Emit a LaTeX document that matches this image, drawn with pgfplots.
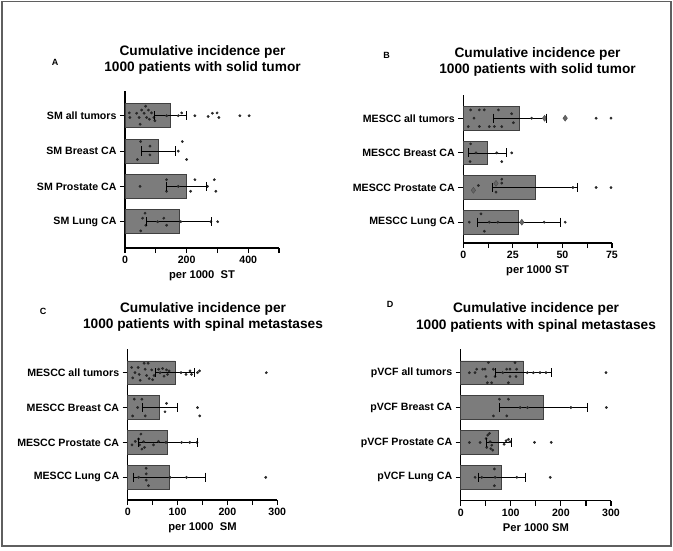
\documentclass[border=0pt]{standalone}
\usepackage{pgfplots}
\pgfplotsset{compat=1.18}
\usepackage{fontspec}
\setmainfont{Liberation Sans}
\definecolor{barg}{RGB}{124,124,124}
\definecolor{ptc}{RGB}{40,40,40}
\definecolor{framec}{RGB}{95,95,95}
\begin{document}
\begin{tikzpicture}[x=1pt,y=1pt]
\path[use as bounding box] (0pt,0pt) rectangle (673pt,-551pt);
\draw[framec, line width=1.3pt] (2pt,-1.5pt) rectangle (671pt,-546pt);
\pgfplotsset{
  panel/.style={
    scale only axis,
    anchor=north west,
    axis x line*=bottom,
    axis y line*=left,
    axis line style={line width=1.3pt},
    ytick={0,1,2,3},
    tick align=outside,
    major tick length=5pt,
    tick style={line width=1.1pt, black},
    xmin=0,
    ticklabel style={font=\bfseries\fontsize{10.6}{12}\selectfont},
    xlabel style={font=\bfseries\fontsize{11.2}{13}\selectfont},
    /pgf/number format/assume math mode=true,
    clip=false,
  },
  barst/.style={xbar, bar width=0.68, fill=barg, draw=black!75, line width=0.6pt},
  pts/.style={only marks, mark=*, mark size=1.2pt, mark options={draw=ptc, fill=ptc}},
  big/.style={only marks, mark=diamond*, mark size=3pt, mark options={draw=black!70, fill=black!60}},
  eb/.style={black, line width=0.7pt, mark=|, mark size=4.6pt, mark options={line width=0.8pt}},
}
% ---------------- A ----------------
\begin{axis}[panel, at={(125pt,-91pt)}, width=154pt, height=157pt,
  xmax=500, ymin=-0.744, ymax=3.70,
  xtick={0,100,200,300,400,500}, xticklabels={0,,200,,400,},
  yticklabels={SM Lung CA,SM Prostate CA,SM Breast CA,SM all tumors},
  xlabel={per 1000\ \ ST}]
\addplot[barst] coordinates {(146,3) (108,2) (198,1) (175,0)};
\addplot[pts] coordinates {
 (14,3.08) (16,2.95) (38,3.07) (46,2.95) (49,2.76) (54,3.16) (62,3.07) (67,3.27)
 (70,2.95) (76,3.16) (79,2.90) (86,3.08) (94,2.95) (97,2.86) (135,3) (173,3)
 (184,3.08) (227,3) (270,2.98) (284,3.07) (299,3.08) (305,2.95) (373,3) (403,3)
 (51,2.27) (81,2.14) (81,1.89) (40,1.76) (186,2.27) (173,2.0) (200,1.76)
 (49,1.0) (135,1.19) (135,0.86) (173,1.0) (227,1.19) (213,0.86) (268,1.0) (290,1.19) (295,0.86)
 (65,0.24) (57,0.1) (68,-0.1) (51,-0.26) (106,0) (126,0.1) (135,-0.1) (181,0) (279,0) (301,0)};
\addplot[eb] coordinates {(95,3) (200,3)};
\addplot[eb] coordinates {(54,2) (164,2)};
\addplot[eb] coordinates {(135,1) (263,1)};
\addplot[eb] coordinates {(70,0) (279,0)};
\end{axis}
% ---------------- B ----------------
\begin{axis}[panel, at={(463.3pt,-95pt)}, width=148.7pt, height=148pt,
  xmax=75, ymin=-0.60, ymax=3.67,
  xtick={0,12.5,25,37.5,50,62.5,75}, xticklabels={0,,25,,50,,75},
  yticklabels={MESCC Lung CA,MESCC Prostate CA,MESCC Breast CA,MESCC all tumors},
  xlabel={per 1000 ST}]
\addplot[barst] coordinates {(28.3,3) (12.1,2) (36.2,1) (27.8,0)};
\addplot[pts] coordinates {
 (3.7,3.24) (8.1,3.24) (10.6,3.24) (17.7,3.24) (24.4,3.13) (5.4,3.0) (34.5,3.0)
 (67,3.0) (74.5,3.0) (2.5,2.76) (8.1,2.76) (13.1,2.76) (15.7,2.76) (19.4,2.76) (25.3,2.87)
 (3.7,2.26) (6.4,2.0) (3.4,1.75) (16.9,2.0) (24.4,2.0) (19.4,1.75)
 (7.6,1.06) (19.4,1.24) (19.4,1.13) (16.5,0.87) (55.3,1.0) (67,1.0) (74.5,1.0)
 (3,0) (8.9,0.24) (10.6,-0.26) (13.1,0) (17.4,0) (40.8,0) (51.4,0)};
\addplot[big] coordinates {(41,3.0) (51.4,3.0) (5.1,0.92) (16.5,1.12) (29.5,0)};
\addplot[eb] coordinates {(15.2,3) (41.8,3)};
\addplot[eb] coordinates {(2.5,2) (21.6,2)};
\addplot[eb] coordinates {(14.7,1) (57.8,1)};
\addplot[eb] coordinates {(7.1,0) (48.9,0)};
\end{axis}
% ---------------- C ----------------
\begin{axis}[panel, at={(127.7pt,-349.3pt)}, width=149.6pt, height=150.7pt,
  xmax=300, ymin=-0.65, ymax=3.67,
  xtick={0,50,100,150,200,250,300}, xticklabels={0,,100,,200,,300},
  yticklabels={MESCC Lung CA,MESCC Prostate CA,MESCC Breast CA,MESCC all tumors},
  xlabel={per 1000\ \ SM}]
\addplot[barst] coordinates {(95,3) (63.6,2) (80.1,1) (82.8,0)};
\addplot[pts] coordinates {
 (8,3.15) (10,2.85) (14.6,3.0) (21,3.15) (23,2.95) (25,2.78) (33,3.27) (35,3.1) (38,2.92)
 (41,3.27) (43,2.83) (48,3.08) (50,2.8) (53,2.92) (62,3.1) (65,3.0) (70,3.12) (73,2.9)
 (78,3.08) (80,2.95) (83,3.05) (107,3.0) (117,2.95) (125,3.05) (128,2.95) (140,3.0) (144,3.05) (278,3.0)
 (13.2,2.24) (28.5,2.24) (19.9,2.0) (9.9,1.76) (35.1,1.76) (78,2.12) (74.8,1.88) (140,2.0) (144.4,1.76)
 (8.6,0.93) (15.2,1.03) (21.9,1.1) (23.8,0.93) (26.5,1.24) (28.5,0.81) (31.8,1.02) (33.8,0.86)
 (51.7,0.93) (61.6,1.03) (76.8,1.0) (108,1.0) (124.5,1.0) (139,1.0)
 (21.9,0) (37.1,0.26) (37.1,0.1) (37.1,-0.08) (41.7,-0.24) (84.8,0) (117.9,0) (276.8,0)};
\addplot[eb] coordinates {(55,3) (133,3)};
\addplot[eb] coordinates {(28.5,2) (100,2)};
\addplot[eb] coordinates {(21.9,1) (139.7,1)};
\addplot[eb] coordinates {(11.9,0) (155.6,0)};
\end{axis}
% ---------------- D ----------------
\begin{axis}[panel, at={(460.7pt,-349.3pt)}, width=150.3pt, height=151.4pt,
  xmax=300, ymin=-0.67, ymax=3.67,
  xtick={0,50,100,150,200,250,300}, xticklabels={0,,100,,200,,300},
  yticklabels={pVCF Lung CA,pVCF Prostate CA,pVCF Breast CA,pVCF all tumors},
  xlabel={Per 1000 SM}]
\addplot[barst] coordinates {(125,3) (165.3,2) (76,1) (82,0)};
\addplot[pts] coordinates {
 (55.2,3.29) (108.4,3.29) (31.9,3.1) (43.9,3.1) (48.5,3.1) (65.2,3.1) (91.8,3.1) (98.4,3.1) (111.7,3.1)
 (17.3,3.0) (28.6,3.0) (83.8,3.0) (133,3.0) (145,3.0) (158.3,3.0) (170.2,3.0) (290,3.0)
 (50.5,2.89) (68.5,2.89) (98.4,2.89) (110.4,2.89) (53.2,2.71) (61.8,2.71) (95.1,2.71)
 (77.3,2.24) (95.3,2.24) (65.3,1.76) (92,1.76) (118.7,2.0) (133.3,2.0) (220,2.0) (290.7,2.0)
 (17.3,1.0) (38.7,1.0) (50.7,1.11) (52,0.86) (54,1.21) (57.3,1.26) (58.7,1.02) (60,0.82) (62,0.92)
 (64,0.78) (86.7,0.95) (90.7,1.05) (95.3,1.09) (98.7,1.02) (147.3,1.0) (180.7,1.0)
 (28.7,0) (42,0) (67.3,0.24) (68.7,0) (67.3,-0.24) (112,0) (178.7,0)};
\addplot[eb] coordinates {(69.8,3) (181.6,3)};
\addplot[eb] coordinates {(77.3,2) (252,2)};
\addplot[eb] coordinates {(50.7,1) (102,1)};
\addplot[eb] coordinates {(35.3,0) (129.3,0)};
\end{axis}
% titles and panel letters
\begin{scope}[every node/.style={align=center, font=\bfseries\fontsize{13.7}{16.6}\selectfont}]
\node at (202.5pt,-60pt) {Cumulative incidence per\\1000 patients with solid tumor};
\node at (537.5pt,-62pt) {Cumulative incidence per\\1000 patients with solid tumor};
\node at (203pt,-317pt) {Cumulative incidence per\\1000 patients with spinal metastases};
\node at (536pt,-317.5pt) {Cumulative incidence per\\1000 patients with spinal metastases};
\end{scope}
\begin{scope}[every node/.style={font=\bfseries\fontsize{9}{10}\selectfont}]
\node at (55pt,-62pt) {A};
\node at (386.7pt,-55pt) {B};
\node at (43pt,-311.7pt) {C};
\node at (390pt,-304pt) {D};
\end{scope}
\end{tikzpicture}
\end{document}
